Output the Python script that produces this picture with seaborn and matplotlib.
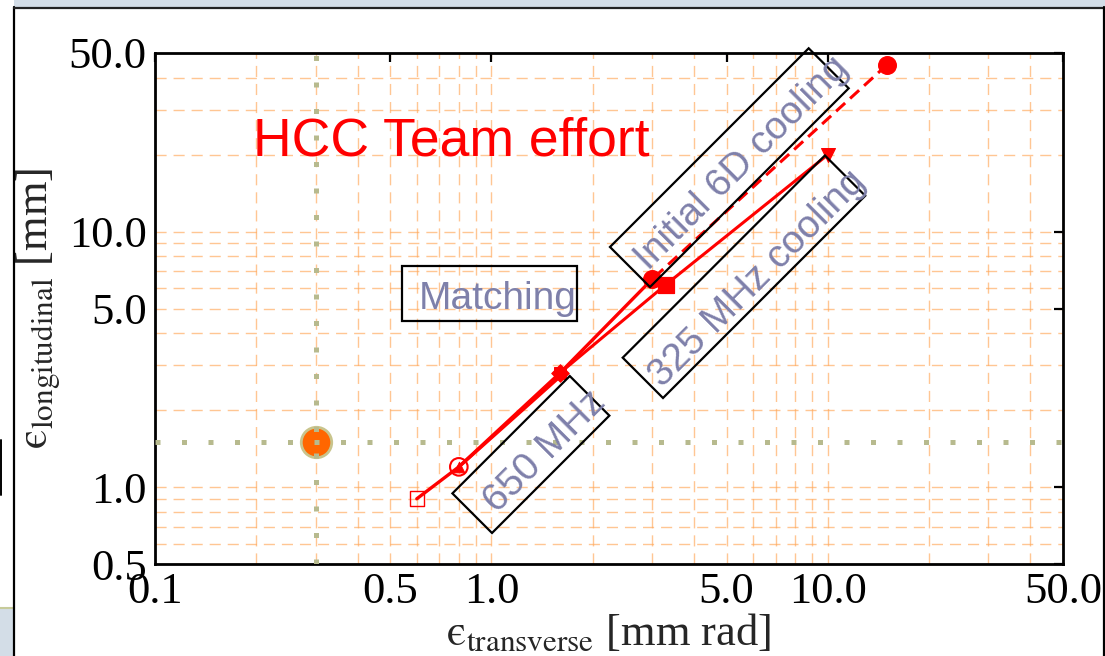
import matplotlib
matplotlib.use("Agg")
import matplotlib.pyplot as plt
import seaborn as sns
import numpy as np
import pandas as pd
from matplotlib.patches import Rectangle
from matplotlib.lines import Line2D
from matplotlib.ticker import FixedLocator, FixedFormatter, LogLocator, NullFormatter

# ---------------- data ----------------
init6d_x = [15.0, 3.0]
init6d_y = [45.0, 6.5]
c325_x = [10.0, 3.3, 1.6]
c325_y = [20.0, 6.2, 2.8]
branch_x = [3.0, 1.6, 0.8]
branch_y = [6.5, 2.8, 1.2]
c650_x = [1.62, 0.8, 0.6]
c650_y = [2.75, 1.2, 0.9]
target_x = [0.3]
target_y = [1.5]

xticks = [0.1, 0.5, 1.0, 5.0, 10.0, 50.0]
xtick_labels = ["0.1", "0.5", "1.0", "5.0", "10.0", "50.0"]
yticks = [0.5, 1.0, 5.0, 10.0, 50.0]
ytick_labels = ["0.5", "1.0", "5.0", "10.0", "50.0"]

title_text = "HCC Team effort"
box_labels = ["Initial 6D cooling", "325 MHz cooling", "650 MHz", "Matching"]

# ---------------- style ----------------
sns.set_theme(style="white")
plt.rcParams["font.family"] = ["Liberation Serif", "DejaVu Serif"]
plt.rcParams["mathtext.fontset"] = "stix"

W, H = 1105, 656
fig = plt.figure(figsize=(W / 100, H / 100), dpi=100)
fig.patch.set_facecolor("white")


def fx(x):
    return x / W


def fy(y):
    return 1 - y / H


ax_left, ax_right, ax_top, ax_bot = 155, 1063, 53, 564
ax = fig.add_axes([fx(ax_left), fy(ax_bot), (ax_right - ax_left) / W, (ax_bot - ax_top) / H])
ax.set_facecolor("white")
ax.set_xscale("log")
ax.set_yscale("log")
ax.set_xlim(0.1, 50)
ax.set_ylim(0.5, 50)

# ticks and grid
ax.xaxis.set_major_locator(FixedLocator(xticks))
ax.xaxis.set_major_formatter(FixedFormatter(xtick_labels))
ax.yaxis.set_major_locator(FixedLocator(yticks))
ax.yaxis.set_major_formatter(FixedFormatter(ytick_labels))
ax.xaxis.set_minor_locator(LogLocator(base=10, subs=np.arange(1, 10)))
ax.yaxis.set_minor_locator(LogLocator(base=10, subs=np.arange(1, 10)))
ax.xaxis.set_minor_formatter(NullFormatter())
ax.yaxis.set_minor_formatter(NullFormatter())
ax.grid(which="both", color="#ffa85a", linestyle=(0, (8, 5)), linewidth=1.0, alpha=0.65)
ax.set_axisbelow(True)

ax.tick_params(which="major", direction="in", length=6.5, width=1.6, top=True, right=True,
               labelsize=32, colors="black", pad=6)
ax.tick_params(which="minor", length=0)
for s in ax.spines.values():
    s.set_linewidth(2.0)
    s.set_color("black")

# target point with olive dotted guide lines
sns.scatterplot(x=target_x, y=target_y, ax=ax, s=480, color="#ff6600",
                edgecolor="#c9c48c", linewidth=2.0, zorder=3, legend=False)
ax.axvline(target_x[0], color="#b7ba8e", lw=3.6, linestyle=(0, (1, 4.3)), zorder=4)
ax.axhline(target_y[0], color="#b7ba8e", lw=3.6, linestyle=(0, (1, 4.3)), zorder=4)

# lines
red = "#ff0000"
sns.lineplot(x=init6d_x, y=init6d_y, ax=ax, sort=False, estimator=None, color=red,
             lw=2.2, linestyle=(0, (4, 2.2)), zorder=5)
sns.lineplot(x=c325_x, y=c325_y, ax=ax, sort=False, estimator=None, color=red, lw=2.2, zorder=5)
sns.lineplot(x=branch_x, y=branch_y, ax=ax, sort=False, estimator=None, color=red, lw=2.4, zorder=5)
sns.lineplot(x=c650_x, y=c650_y, ax=ax, sort=False, estimator=None, color=red, lw=2.4, zorder=5)

# markers
sns.scatterplot(x=init6d_x, y=init6d_y, ax=ax, marker="o", s=160, color=red, edgecolor=red, zorder=6, legend=False)
sns.scatterplot(x=c325_x[:1], y=c325_y[:1], ax=ax, marker="v", s=100, color=red, edgecolor=red, zorder=6, legend=False)
sns.scatterplot(x=c325_x[1:2], y=c325_y[1:2], ax=ax, marker="s", s=120, color=red, edgecolor=red, zorder=6, legend=False)
sns.scatterplot(x=c325_x[2:], y=c325_y[2:], ax=ax, marker="D", s=80, color=red, edgecolor=red, zorder=6, legend=False)
sns.scatterplot(x=c325_x[2:], y=c325_y[2:], ax=ax, marker="s", s=75, color=red, edgecolor=red, zorder=6, legend=False)
sns.scatterplot(x=c650_x[1:2], y=c650_y[1:2], ax=ax, marker="o", s=160, facecolor="none", edgecolor=red,
                linewidth=1.5, zorder=6, legend=False)
sns.scatterplot(x=c650_x[1:2], y=c650_y[1:2], ax=ax, marker="^", s=60, color=red, edgecolor=red, zorder=6, legend=False)
sns.scatterplot(x=c650_x[2:], y=c650_y[2:], ax=ax, marker="s", s=110, facecolor="none", edgecolor=red,
                linewidth=1.0, zorder=6, legend=False)

# axis labels (lunate epsilon)
ax.set_xlabel("$\\mathrm{\u03f5}_{\\rm transverse}$ [mm rad]", fontsize=32, labelpad=0)
ax.set_ylabel("$\\mathrm{\u03f5}_{\\rm longitudinal}$ [mm]", fontsize=32, labelpad=4)

# annotation text
fig.text(fx(253), fy(155), title_text, color="#ff0000", fontsize=38.5, family="Liberation Sans",
         ha="left", va="baseline", zorder=10)

label_color = "#7e80aa"


def rot_box(bx, by, w, h):
    r = Rectangle((bx / 100, (H - by) / 100), w / 100, h / 100, angle=45, fill=False,
                  edgecolor="black", lw=1.6, transform=fig.dpi_scale_trans, zorder=9)
    fig.add_artist(r)


rot_box(650, 287, 281, 56.6)
rot_box(663, 398, 286, 57)
rot_box(492, 533, 166, 56)
fig.add_artist(Rectangle((402 / 100, (H - 321) / 100), 175 / 100, 55 / 100, fill=False,
                         edgecolor="black", lw=1.6, transform=fig.dpi_scale_trans, zorder=9))

for txt, (cx, cy), rot in zip(box_labels, [(742, 163), (758, 279), (545, 452), (498, 299)], [45, 45, 45, 0]):
    fig.text(fx(cx), fy(cy), txt, color=label_color, fontsize=28, family="Liberation Sans",
             ha="center", va="center", rotation=rot, rotation_mode="anchor", zorder=10)

# window frame around the screenshot
fig.add_artist(Rectangle((fx(14), fy(7)), 1 - fx(14), 7 / H, transform=fig.transFigure,
                         facecolor="#d3dde7", edgecolor="none", zorder=1))
fig.add_artist(Rectangle((0, 0), fx(13), (656 - 608) / H, transform=fig.transFigure,
                         facecolor="#d3dde7", edgecolor="none", zorder=1))
fig.add_artist(Line2D([0, fx(13)], [fy(608), fy(608)], transform=fig.transFigure, color="#c7cb9a", lw=1.5, zorder=2))
fig.add_artist(Line2D([fx(14), fx(14)], [0, fy(7)], transform=fig.transFigure, color="black", lw=1.6, zorder=2))
fig.add_artist(Line2D([fx(14), 1], [fy(7.5), fy(7.5)], transform=fig.transFigure, color="#222222", lw=1.6, zorder=2))
fig.add_artist(Line2D([fx(1103.5), fx(1103.5)], [0, fy(7)], transform=fig.transFigure, color="black", lw=1.6, zorder=2))
fig.add_artist(Line2D([fx(1), fx(1)], [fy(495), fy(440)], transform=fig.transFigure, color="black", lw=1.4, zorder=2))

fig.savefig("out.png", dpi=100)
